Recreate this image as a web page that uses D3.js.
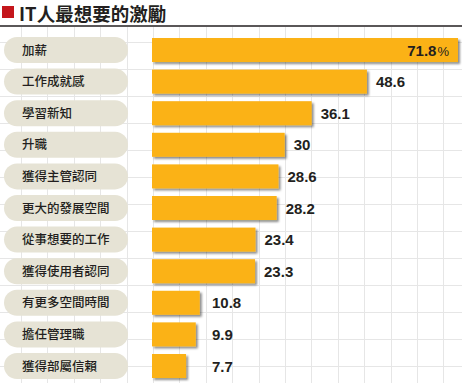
<!DOCTYPE html>
<html><head><meta charset="utf-8">
<script src="https://cdn.jsdelivr.net/npm/d3@7"></script>
<style>body{margin:0;background:#fff}svg{display:block}</style>
</head><body>
<script>
const categories = ["加薪","工作成就感","學習新知","升職","獲得主管認同","更大的發展空間","從事想要的工作","獲得使用者認同","有更多空間時間","擔任管理職","獲得部屬信賴"];
const values = [71.8,48.6,36.1,30,28.6,28.2,23.4,23.3,10.8,9.9,7.7];
const valueLabels = ["71.8","48.6","36.1","30","28.6","28.2","23.4","23.3","10.8","9.9","7.7"];
const title = "IT人最想要的激勵";
const unit = "%";

const W = 462, H = 383;
const svg = d3.select("body").append("svg").attr("width", W).attr("height", H);
const defs = svg.append("defs");
const f = defs.append("filter").attr("id","sh").attr("x","-10%").attr("y","-30%").attr("width","130%").attr("height","170%");
f.append("feDropShadow").attr("dx",2).attr("dy",2).attr("stdDeviation",1.3).attr("flood-color","#000").attr("flood-opacity",0.45);

// background grid
const g = svg.append("g").attr("stroke","#e6e6e6").attr("stroke-width",1);
d3.range(21, W, 26.4).forEach(x => g.append("line").attr("x1",Math.round(x)+0.5).attr("x2",Math.round(x)+0.5).attr("y1",27).attr("y2",H));
d3.range(15, H, 27).forEach(y => g.append("line").attr("y1",Math.round(y)+0.5).attr("y2",Math.round(y)+0.5).attr("x1",0).attr("x2",W));
svg.append("rect").attr("x",0).attr("y",0).attr("width",W).attr("height",25).attr("fill","#fff");

// title
svg.append("rect").attr("x",2).attr("y",6).attr("width",12).attr("height",12).attr("fill","#c4161c");
svg.append("text").attr("x",19).attr("y",20.5).attr("font-family","'Noto Sans CJK TC'").attr("font-weight",700)
  .attr("font-size",18.5).attr("fill","#231f20").text(title);
svg.append("line").attr("x1",0).attr("x2",W).attr("y1",26).attr("y2",26).attr("stroke","#231f20").attr("stroke-width",1.3);

const y = d3.scaleBand().domain(categories).range([34.2,381.8]).paddingInner(0.24).paddingOuter(0.12);
const x = d3.scaleLinear().domain([0,69.2]).range([152,458]).clamp(true);

// pills
svg.append("g").selectAll("rect").data(categories).join("rect")
  .attr("x",4).attr("y",d=>y(d)-1).attr("width",124).attr("height",y.bandwidth()+2)
  .attr("rx",13).attr("fill","#e6e3d5");
svg.append("g").selectAll("text").data(categories).join("text")
  .attr("x",22).attr("y",d=>y(d)+y.bandwidth()/2+4.5)
  .attr("font-family","'Noto Sans CJK TC'").attr("font-size",12.5).attr("font-weight",500).attr("fill","#231f20")
  .text(d=>d);

// bars
svg.append("g").selectAll("rect").data(values).join("rect")
  .attr("x",x(0)).attr("y",(d,i)=>y(categories[i])).attr("width",d=>x(d)-x(0)).attr("height",y.bandwidth())
  .attr("fill","#fbb217").attr("filter","url(#sh)");

// value labels
const vl = svg.append("g").attr("font-family","'Liberation Sans', Arial, sans-serif").attr("font-weight",700).attr("font-size",15).attr("fill","#231f20");
values.forEach((v,i)=>{
  const cy = y(categories[i]) + y.bandwidth()/2 + 5.5;
  if (i === 0) {
    const t = vl.append("text").attr("x",x(v)-9).attr("y",cy).attr("text-anchor","end");
    t.append("tspan").text(valueLabels[i]);
    t.append("tspan").attr("font-weight",400).attr("font-size",13).attr("dx",1).text(unit);
  } else {
    vl.append("text").attr("x",Math.max(x(v)+9,212)).attr("y",cy).text(valueLabels[i]);
  }
});
</script>
</body></html>
